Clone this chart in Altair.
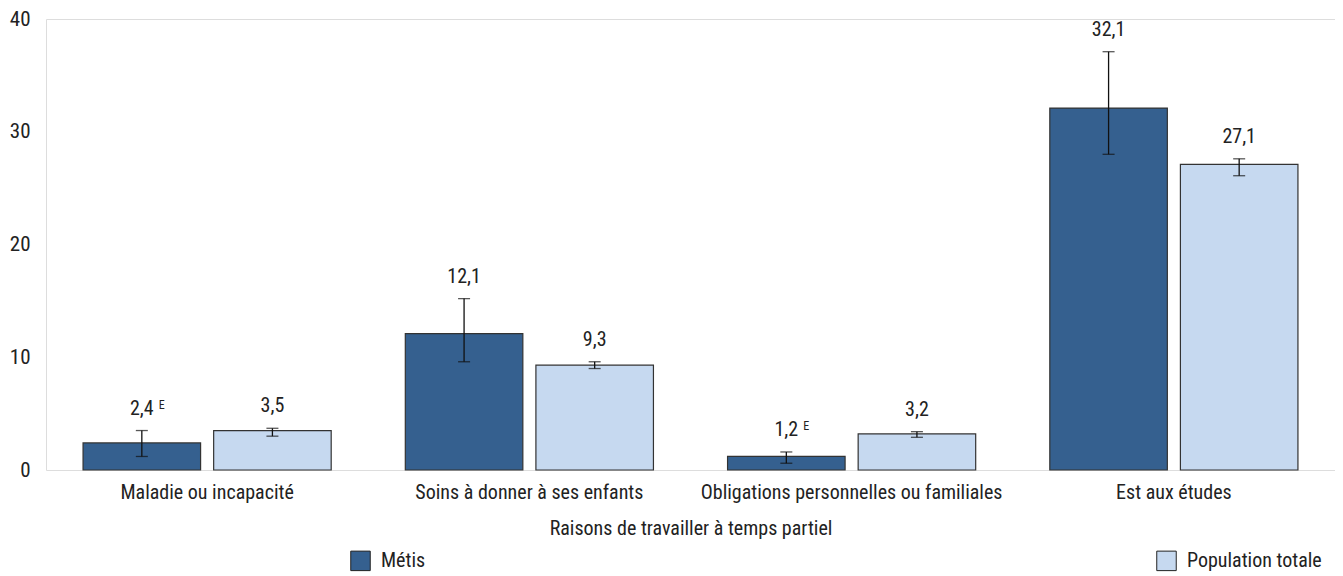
import altair as alt
import pandas as pd

categories = ["Maladie ou incapacité", "Soins à donner à ses enfants",
              "Obligations personnelles ou familiales", "Est aux études"]
groups = ["Métis", "Population totale"]
metis = [2.4, 12.1, 1.2, 32.1]
metis_low = [1.2, 9.6, 0.6, 28.0]
metis_high = [3.5, 15.2, 1.6, 37.1]
metis_flag = ["E", "", "E", ""]
pop = [3.5, 9.3, 3.2, 27.1]
pop_low = [3.0, 9.0, 2.9, 26.1]
pop_high = [3.7, 9.6, 3.4, 27.6]
pop_flag = ["", "", "", ""]

rows = []
for i, c in enumerate(categories):
    rows.append(dict(cat=c, grp=groups[0], val=metis[i], lo=metis_low[i], hi=metis_high[i], flag=metis_flag[i]))
    rows.append(dict(cat=c, grp=groups[1], val=pop[i], lo=pop_low[i], hi=pop_high[i], flag=pop_flag[i]))
df = pd.DataFrame(rows)
df["label"] = df["val"].map(lambda v: f"{v:.1f}".replace(".", ","))

FONT = "Roboto Condensed, Arial Narrow, sans-serif"
TXT = "#222"

x = alt.X("cat:N", sort=categories,
          scale=alt.Scale(paddingInner=0.23, paddingOuter=0.115),
          axis=alt.Axis(title="Raisons de travailler à temps partiel", labelAngle=0,
                        ticks=False, domain=False, labelPadding=12, titlePadding=16,
                        labelFontSize=20, titleFontSize=20, titleFontWeight="normal",
                        labelLimit=0, labelColor=TXT, titleColor=TXT,
                        labelFont=FONT, titleFont=FONT))
xo = alt.XOffset("grp:N", sort=groups, scale=alt.Scale(paddingInner=0.1, paddingOuter=0))
yscale = alt.Scale(domain=[0, 40], nice=False)

base = alt.Chart(df)

bars = base.mark_bar(stroke="#333", strokeWidth=1.2).encode(
    x=x, xOffset=xo,
    y=alt.Y("val:Q", scale=yscale,
            axis=alt.Axis(title=None, values=[0, 10, 20, 30, 40], ticks=False, domain=False,
                          grid=False, labelPadding=16, labelFontSize=21, labelColor=TXT,
                          labelFont=FONT)),
    color=alt.Color("grp:N", sort=groups,
                    scale=alt.Scale(domain=groups, range=["#35608f", "#c6d9f0"]),
                    legend=alt.Legend(title=None, orient="none", legendX=304, legendY=531,
                                      direction="horizontal", symbolType="square",
                                      symbolSize=380, symbolStrokeColor="#222",
                                      symbolStrokeWidth=1, columnPadding=728,
                                      labelFontSize=20, labelFont=FONT, labelColor=TXT,
                                      labelOffset=10)),
)

rules = base.mark_rule(color="#111", strokeWidth=1.3).encode(
    x=x, xOffset=xo, y="lo:Q", y2="hi:Q")
cap_lo = base.mark_tick(color="#111", size=12, thickness=1.3).encode(x=x, xOffset=xo, y="lo:Q")
cap_hi = base.mark_tick(color="#111", size=12, thickness=1.3).encode(x=x, xOffset=xo, y="hi:Q")

labels = base.mark_text(baseline="bottom", dy=-12, fontSize=20, font=FONT, color=TXT).encode(
    x=x, xOffset=xo, y="hi:Q", text="label:N")
flags = base.transform_filter("datum.flag != ''").mark_text(
    baseline="bottom", align="left", dy=-19, dx=17, fontSize=12, font=FONT, color=TXT).encode(
    x=x, xOffset=xo, y="hi:Q", text="flag:N")

chart = alt.layer(bars, rules, cap_lo, cap_hi, labels, flags).properties(
    width=1289, height=451,
    autosize=alt.AutoSizeParams(type="none"),
    padding={"left": 38, "top": 11, "right": 0, "bottom": 105},
).configure_view(stroke="#333", strokeWidth=1.2).configure(background="white")

chart.save("out.html", embed_options={"renderer": "svg", "actions": False})
